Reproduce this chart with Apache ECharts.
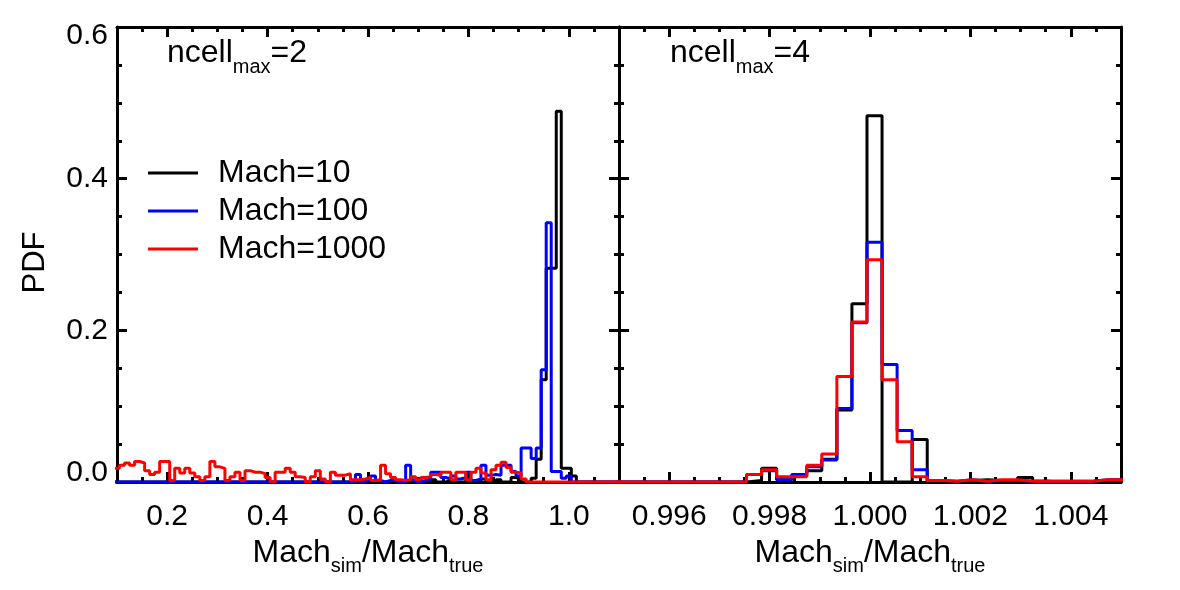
<!DOCTYPE html>
<html><head><meta charset="utf-8">
<script src="https://cdn.jsdelivr.net/npm/echarts@6/dist/echarts.min.js"></script>
<style>html,body{margin:0;padding:0;background:#fff}#c{width:1180px;height:590px}</style>
</head><body><div id="c"></div>
<script>
// ---------- data ----------
const seriesNames = ['Mach=10', 'Mach=100', 'Mach=1000'];
const seriesColors = ['#000000', '#0000ff', '#ff0000'];

// Left panel (ncell_max = 2): histogram bins of width 0.01, first bin edge 0.095
const leftBinStart = 0.095;
const leftBinWidth = 0.01;
const leftBlack = [
  0,0,0,0,0,0,0,0,0,0,
  0,0,0,0,0,0,0,0,0,0,
  0,0,0,0,0,0,0,0,0,0,
  0,0,0,0,0,0,0,0,0,0,
  0,0,0,0,0,0,0,0,0,0,
  0,0,0,0,0,0,0.002,0,0,0,
  0.002,0,0,0.003,0,0,0.002,0,0,0,
  0.003,0,0,0.004,0,0,0.003,0,0,0.006,
  0.004,0,0,0.005,0.030,0.135,0.282,0.282,0.489,0.018,
  0.018,0.008,0,0,0,0,0,0,0,0,
  0
];
const leftBlue = [
  0,0,0,0,0,0,0,0,0,0,
  0,0,0,0,0,0,0,0,0,0,
  0,0,0,0,0,0,0,0,0,0,
  0,0,0,0,0,0,0,0,0,0,
  0,0,0,0,0,0,0,0,0.010,0,
  0.003,0.008,0.002,0,0.002,0.002,0,0,0.022,0.003,
  0,0.002,0.004,0.013,0.013,0.006,0.004,0.008,0.004,0.006,
  0.013,0.002,0.004,0.022,0.009,0.010,0.009,0.022,0.022,0.014,
  0.008,0.045,0.045,0.031,0.045,0.148,0.342,0.014,0.014,0.005,
  0.008,0,0,0,0,0,0,0,0,0,
  0
];
const leftRed = [
  0.018,0.022,0.025,0.022,0.027,0.025,0.015,0.010,0.013,0.027,
  0.027,0.002,0.018,0.012,0.018,0.012,0.007,0.002,0.007,0.027,
  0.020,0.018,0.002,0.007,0.013,0.002,0.015,0.013,0.013,0.011,
  0.006,0,0.013,0.013,0.018,0.013,0.007,0.006,0,0.007,
  0.015,0.004,0,0.013,0.009,0.009,0.011,0.003,0.003,0.004,
  0.006,0.002,0.003,0.022,0.011,0.006,0.003,0.002,0.003,0.007,
  0.003,0.006,0.007,0.010,0.009,0.013,0.013,0.003,0.013,0.013,
  0.003,0.013,0.018,0.012,0.003,0.016,0.022,0.026,0.019,0.013,
  0.012,0.004,0,0,0,0,0,0,0,0,
  0,0,0,0,0,0,0,0,0,0,
  0
];

// Right panel (ncell_max = 4): histogram bins of width 0.0003, first bin edge 0.99484
const rightBinStart = 0.99484;
const rightBinWidth = 0.0003;
const rightBlack = [
  0,0,0,0,0,0,0,0,0,
  0.002,0.018,0.003,0.008,0.015,0.030,0.095,0.235,0.483,0,
  0,0.056,0,0,0.002,0.003,0.002,0.001,0.006,0.001,
  0,0,0,0.001,0.002
];
const rightBlue = [
  0,0,0,0,0,0,0,0,0,
  0.010,0.015,0.003,0.010,0.020,0.029,0.097,0.210,0.316,0.155,
  0.068,0.016,0.002,0.001,0.003,0.001,0.002,0.002,0.001,0.001,
  0.001,0.001,0.001,0.003,0.003
];
const rightRed = [
  0,0,0,0,0,0,0,0,0,
  0.010,0.016,0.007,0.007,0.022,0.037,0.139,0.211,0.293,0.135,
  0.053,0.007,0.002,0.001,0.003,0.001,0.003,0.003,0.001,0.001,
  0.001,0.001,0.001,0.003,0.003
];

// axes
const yRange = [0, 0.6];
const yInterval = 0.2;
const leftXRange = [0.1, 1.1];
const leftMajorTicks = [0.2, 0.4, 0.6, 0.8, 1.0];
const leftMinorTicks = [0.15, 0.25, 0.3, 0.35, 0.45, 0.5, 0.55, 0.65, 0.7, 0.75, 0.85, 0.9, 0.95, 1.05];
const rightXRange = [0.995, 1.005];
const rightMajorTicks = [0.996, 0.998, 1.000, 1.002, 1.004];
const rightMinorTicks = [0.9955, 0.9965, 0.997, 0.9975, 0.9985, 0.999, 0.9995, 1.0005, 1.001, 1.0015, 1.0025, 1.003, 1.0035, 1.0045];
const panelLabels = ['2', '4'];

// ---------- chart ----------
const FONT = "'Liberation Sans', Arial, Helvetica, sans-serif";
const chart = echarts.init(document.getElementById('c'), null, {renderer: 'canvas'});

function stepPoints(start, width, vals) {
  const pts = vals.map((v, i) => [+(start + i * width).toFixed(7), v]);
  pts.push([+(start + vals.length * width).toFixed(7), vals[vals.length - 1]]);
  return pts;
}

const LW = 3;
const frameLine = {show: true, lineStyle: {color: '#000', width: LW}};
const subRich = {
  a: {fontSize: 32, fontFamily: FONT, color: '#000', lineHeight: 32, verticalAlign: 'top'},
  b: {fontSize: 20, fontFamily: FONT, color: '#000', lineHeight: 20, verticalAlign: 'bottom'},
  h: {lineHeight: 40, fontSize: 1, width: 0}
};

function xAxesFor(gridIndex, range, majors, minors, digits) {
  const base = {type: 'value', gridIndex, min: range[0], max: range[1], splitLine: {show: false}};
  return [
    Object.assign({}, base, {
      position: 'bottom',
      axisLine: frameLine,
      axisTick: {show: true, inside: true, length: 10, customValues: majors, lineStyle: {width: LW, color: '#000'}},
      axisLabel: {show: true, customValues: majors, margin: 20, fontSize: 30, fontFamily: FONT, color: '#000',
        formatter: v => Number(v).toFixed(digits)},
      name: '{h|}{a|Mach}{b|sim}{a|/Mach}{b|true}',
      nameLocation: 'middle', nameGap: 50,
      nameTextStyle: {rich: subRich}
    }),
    Object.assign({}, base, {
      position: 'bottom',
      axisLine: {show: false},
      axisTick: {show: true, inside: true, length: 5, customValues: minors, lineStyle: {width: LW, color: '#000'}},
      axisLabel: {show: false, customValues: minors}
    }),
    Object.assign({}, base, {
      position: 'top',
      axisLine: frameLine,
      axisTick: {show: true, inside: true, length: 10, customValues: majors, lineStyle: {width: LW, color: '#000'}},
      axisLabel: {show: false, customValues: majors}
    }),
    Object.assign({}, base, {
      position: 'top',
      axisLine: {show: false},
      axisTick: {show: true, inside: true, length: 5, customValues: minors, lineStyle: {width: LW, color: '#000'}},
      axisLabel: {show: false, customValues: minors}
    })
  ];
}

function yAxisFor(gridIndex, position, withLabels) {
  const ax = {
    type: 'value', gridIndex, position, min: yRange[0], max: yRange[1], interval: yInterval,
    splitLine: {show: false},
    axisLine: frameLine,
    axisTick: {show: true, inside: true, length: 10, lineStyle: {width: LW, color: '#000'}},
    minorTick: {show: true, splitNumber: 4, length: 5, lineStyle: {width: LW, color: '#000'}},
    axisLabel: {show: withLabels, margin: 9, fontSize: 30, lineHeight: 18, fontFamily: FONT, color: '#000',
      formatter: v => Number(v).toFixed(1),
      verticalAlignMinLabel: 'bottom', verticalAlignMaxLabel: 'top'}
  };
  if (withLabels) {
    ax.name = 'PDF';
    ax.nameLocation = 'middle';
    ax.nameGap = 66;
    ax.nameTextStyle = {fontSize: 31, fontFamily: FONT, color: '#000', padding: [0, 16, 0, 0]};
  }
  return ax;
}

const leftData = [leftBlack, leftBlue, leftRed];
const rightData = [rightBlack, rightBlue, rightRed];
const series = [];
leftData.forEach((vals, i) => series.push({
  name: seriesNames[i], type: 'line', step: 'end', xAxisIndex: 0, yAxisIndex: 0,
  data: stepPoints(leftBinStart, leftBinWidth, vals), symbol: 'none', animation: false,
  lineStyle: {color: seriesColors[i], width: LW}, itemStyle: {color: seriesColors[i]}, z: 3 + i
}));
rightData.forEach((vals, i) => series.push({
  name: seriesNames[i], type: 'line', step: 'end', xAxisIndex: 4, yAxisIndex: 2,
  data: stepPoints(rightBinStart, rightBinWidth, vals), symbol: 'none', animation: false,
  lineStyle: {color: seriesColors[i], width: LW}, itemStyle: {color: seriesColors[i]}, z: 3 + i
}));

const option = {
  backgroundColor: '#fff',
  animation: false,
  grid: [
    {left: 117, top: 27, width: 502, height: 455},
    {left: 619, top: 27, width: 502, height: 455}
  ],
  xAxis: [].concat(
    xAxesFor(0, leftXRange, leftMajorTicks, leftMinorTicks, 1),
    xAxesFor(1, rightXRange, rightMajorTicks, rightMinorTicks, 3)
  ),
  yAxis: [yAxisFor(0, 'left', true), yAxisFor(0, 'right', false), yAxisFor(1, 'left', false), yAxisFor(1, 'right', false)],
  legend: {
    data: seriesNames, orient: 'vertical', left: 143, top: 152,
    itemWidth: 50, itemHeight: 14, itemGap: 6,
    icon: 'path://M0,5.5 L50,5.5 L50,8.5 L0,8.5 Z',
    textStyle: {fontSize: 32, fontFamily: FONT, color: '#000', padding: [0, 0, 0, 15], lineHeight: 32},
    selectedMode: false
  },
  graphic: panelLabels.map((p, i) => ({
    type: 'text', left: [167, 670][i], top: 37, silent: true,
    style: {text: '{h|}{a|ncell}{b|max}{a|=' + p + '}', rich: subRich}
  })),
  series
};
chart.setOption(option);
</script></body></html>
